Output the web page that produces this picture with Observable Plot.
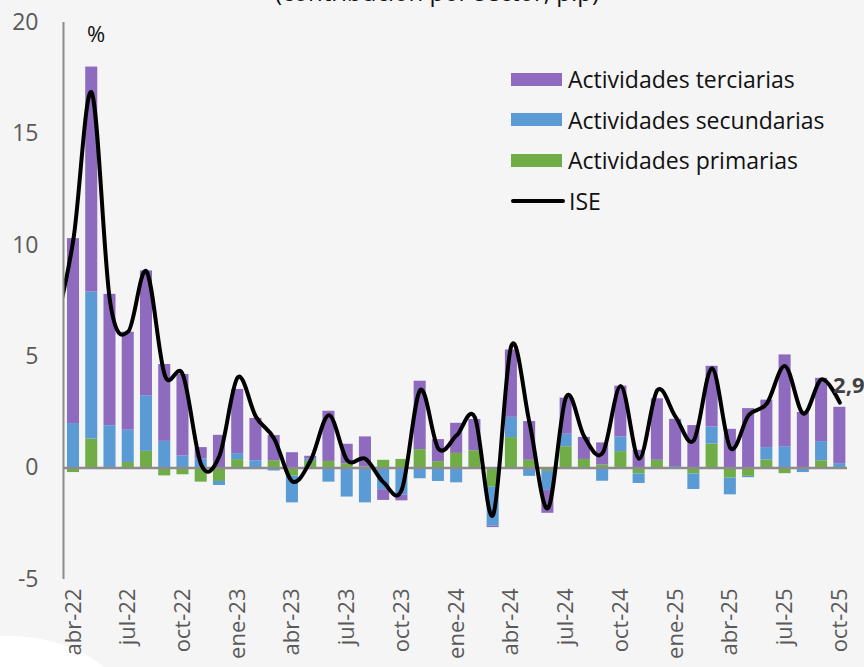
<!DOCTYPE html>
<html><head><meta charset="utf-8">
<script src="https://cdn.jsdelivr.net/npm/d3@7"></script>
<script src="https://cdn.jsdelivr.net/npm/@observablehq/plot@0.6"></script>
<style>
html,body{margin:0;padding:0;background:#f5f5f5;overflow:hidden;width:864px;height:667px}
#wrap{position:relative;width:864px;height:667px;overflow:hidden;font-family:"Open Sans","Noto Sans",sans-serif;background:#f5f5f5}
#blob{position:absolute;left:-120px;top:636px;width:260px;height:200px;border-radius:50%;background:#fff}
#chart{position:absolute;left:0;top:0}
#title{position:absolute;top:-25px;left:0;width:874px;text-align:center;font-size:24px;color:#111;white-space:nowrap}
#pct{position:absolute;left:87px;top:18px;font-size:22px;color:#111}
.row{position:absolute;left:511px;height:30px;display:flex;align-items:center;font-size:23px;color:#111;white-space:nowrap}
.sw{width:51px;height:13px;margin-right:6px}
.ln{width:54px;height:4px;border-radius:2px;background:#000;margin-right:4px}
</style></head>
<body>
<div id="wrap">
  <div id="blob"></div>
  <div id="chart"></div>
  <div id="title"></div>
  <div id="pct">%</div>
  <div id="legend"></div>
</div>
<script>
const months = ["abr-22","may-22","jun-22","jul-22","ago-22","sep-22","oct-22","nov-22","dic-22",
  "ene-23","feb-23","mar-23","abr-23","may-23","jun-23","jul-23","ago-23","sep-23","oct-23","nov-23","dic-23",
  "ene-24","feb-24","mar-24","abr-24","may-24","jun-24","jul-24","ago-24","sep-24","oct-24","nov-24","dic-24",
  "ene-25","feb-25","mar-25","abr-25","may-25","jun-25","jul-25","ago-25","sep-25","oct-25"];

const primarias = [-0.2,1.3,0.0,0.25,0.75,-0.35,-0.3,-0.63,-0.6,
  0.38,0.0,0.33,-0.36,0.3,0.3,0.2,0.05,0.35,0.39,0.83,0.29,
  0.66,0.78,-0.86,1.37,0.35,-0.15,0.96,0.39,0.14,0.74,-0.26,0.35,
  0.0,-0.26,1.08,-0.45,-0.37,0.36,-0.25,0.0,0.33,0.0];

const secundarias = [2.0,6.6,1.9,1.45,2.5,1.2,0.55,0.42,-0.18,
  0.27,0.33,-0.13,-1.2,0.1,-0.63,-1.3,-1.56,-0.97,-1.21,-0.48,-0.6,
  -0.66,0.0,-1.75,0.91,-0.37,-0.85,0.56,0.0,-0.59,0.66,-0.43,0.0,
  0.07,-0.7,0.77,-0.75,-0.06,0.56,0.96,-0.2,0.86,0.2];

const terciarias = [8.3,10.1,5.9,4.4,5.6,3.45,3.65,0.5,1.47,
  2.88,1.9,1.13,0.69,0.13,2.25,0.87,1.35,-0.48,-0.26,3.07,0.99,
  1.35,1.4,-0.06,3.02,1.74,-1.03,1.62,0.99,0.99,2.28,0.8,2.76,
  2.12,1.91,2.72,1.74,2.67,2.13,4.12,2.5,2.84,2.53];

// ISE line starts one month earlier (mar-22), clipped at the axis
const iseMonths = ["mar-22", ...months];
const iseValues = [6.3,10.3,16.85,7.5,6.13,8.83,4.18,4.18,0.15,0.55,
  4.07,2.3,1.32,-0.6,0.35,2.37,0.35,0.42,-0.65,-0.95,3.5,0.87,
  1.47,2.27,-2.1,5.5,2.0,-1.8,3.2,1.4,0.68,3.68,0.42,3.5,
  2.3,1.25,4.48,0.9,2.37,2.9,4.58,2.45,3.98,2.94];

const seriesNames = ["Actividades primarias","Actividades secundarias","Actividades terciarias"];
const seriesColors = ["#70ad47","#5b9bd5","#8e6bbf"];
const legendOrder = ["Actividades terciarias","Actividades secundarias","Actividades primarias","ISE"];
const yTicks = [-5,0,5,10,15,20];
const xTickIdx = d3.range(0, months.length, 3);
const titleText = "(contribución por sector, p.p)";

const rows = [];
[primarias, secundarias, terciarias].forEach((arr, s) =>
  arr.forEach((v, i) => rows.push({i, month: months[i], serie: seriesNames[s], value: v})));
const ise = iseValues.map((v, j) => ({i: j - 1, month: iseMonths[j], value: v}));

const xMin = -0.548, xMax = 42.42;
const fmt = v => d3.format(".1f")(v).replace(".", ",");

const chart = Plot.plot({
  width: 864, height: 667,
  marginLeft: 63, marginRight: 17, marginTop: 22, marginBottom: 88,
  style: {background: "transparent", fontFamily: "'Open Sans','Noto Sans',sans-serif", overflow: "visible"},
  x: {type: "linear", domain: [xMin, xMax], label: null},
  y: {domain: [-5, 20], label: null},
  color: {domain: seriesNames, range: seriesColors},
  marks: [
    Plot.rectY(rows, {x1: d => d.i - 0.33, x2: d => d.i + 0.33, y: "value", fill: "serie"}),
    Plot.ruleY([0], {stroke: "#8c8c8c", strokeWidth: 2.5}),
    Plot.line(ise, {x: "i", y: "value", curve: "cardinal", tension: 0, stroke: "#000", strokeWidth: 4, clip: true}),
    Plot.ruleX([xMin], {stroke: "#8c8c8c", strokeWidth: 2}),
    Plot.axisY({ticks: yTicks, tickFormat: d => String(d), tickSize: 0, tickPadding: 25, fontSize: 23, color: "#595959", label: null}),
    Plot.axisX({ticks: xTickIdx, tickFormat: i => months[i], tickRotate: -90, tickSize: 0, tickPadding: 9, fontSize: 22, color: "#595959", label: null}),
    Plot.text(ise.slice(-1), {x: "i", y: "value", text: d => fmt(d.value), dx: 9, dy: -17, fontSize: 22, fontWeight: "bold", fill: "#404040"})
  ]
});
document.getElementById("chart").appendChild(chart);
document.getElementById("title").textContent = titleText;

const legend = document.getElementById("legend");
const centers = [79, 119.5, 160, 200.5];
legendOrder.forEach((name, k) => {
  const row = document.createElement("div");
  row.className = "row";
  row.style.top = (centers[k] - 15) + "px";
  const sw = document.createElement("div");
  if (name === "ISE") { sw.className = "ln"; }
  else { sw.className = "sw"; sw.style.background = seriesColors[seriesNames.indexOf(name)]; }
  row.appendChild(sw);
  const t = document.createElement("span");
  t.textContent = name;
  row.appendChild(t);
  legend.appendChild(row);
});
</script>
</body></html>
